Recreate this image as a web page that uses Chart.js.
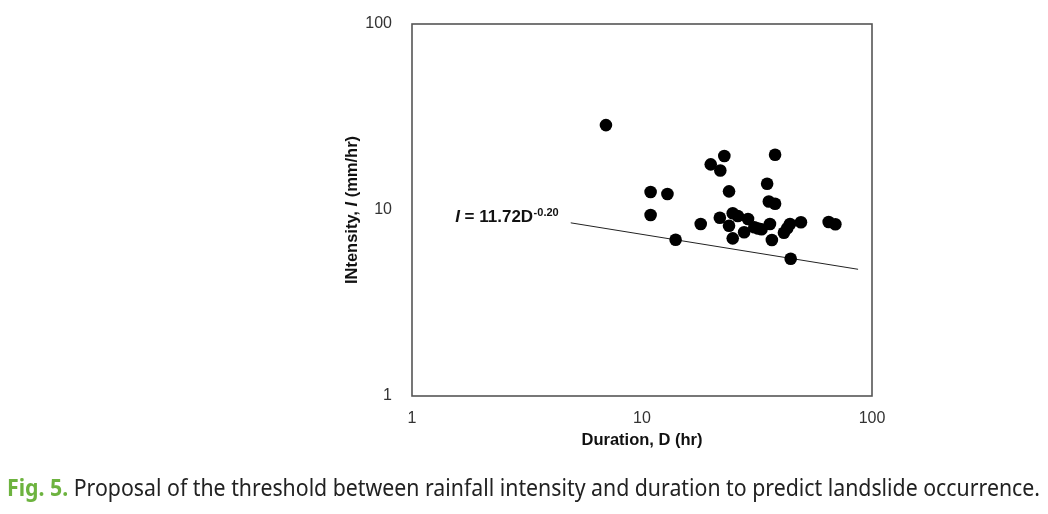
<!DOCTYPE html>
<html>
<head>
<meta charset="utf-8">
<script src="https://cdn.jsdelivr.net/npm/chart.js@4.4.1/dist/chart.umd.min.js"></script>
<style>
  html, body { margin: 0; padding: 0; background: #fff; }
  #wrap { position: relative; width: 1048px; height: 514px; overflow: hidden; }
  #c { position: absolute; left: 0; top: 0; }
  #caption { position: absolute; left: 7px; top: 476px; font-family: "Noto Sans", sans-serif; font-size: 23px; line-height: 23px; white-space: nowrap; color: #222; transform-origin: 0 0; }
  #caption .fig { color: #6db33f; font-weight: bold; }
</style>
</head>
<body>
<div id="wrap">
  <canvas id="c" width="1048" height="514"></canvas>
  <div id="caption"><span class="fig">Fig. 5.</span> Proposal of the threshold between rainfall intensity and duration to predict landslide occurrence.</div>
</div>
<script>
// ---- data ----
const durations   = [6.97, 22.8, 19.9, 21.9, 37.9, 35.0, 10.9, 12.9, 23.9, 35.6, 37.9, 10.9, 21.8, 24.8, 26.1, 28.9, 18.0, 23.9, 36.0, 44.0, 49.1, 64.8, 69.3, 27.8, 30.8, 33.1, 32.0, 41.4, 42.8, 24.8, 36.7, 14.0, 44.3];
const intensities = [28.6, 19.5, 17.6, 16.3, 19.8, 13.85, 12.5, 12.2, 12.6, 11.1, 10.8, 9.4, 9.09, 9.6, 9.29, 8.94, 8.41, 8.23, 8.41, 8.41, 8.59, 8.62, 8.38, 7.59, 8.07, 7.88, 7.95, 7.55, 7.97, 7.04, 6.90, 6.92, 5.47];
const thresholdD  = [4.9, 87];
const thresholdI  = [8.53, 4.80];
const xTicks = [1, 10, 100];
const yTicks = [1, 10, 100];
const xTitle = 'Duration, D (hr)';
const yTitleParts = [['INtensity, ', 'bold'], ['I', 'italic bold'], [' (mm/hr)', 'bold']];
const eqParts = { sym: 'I', main: ' = 11.72D', sup: '-0.20' };
const eqAnchor = { D: 1.54, I: 8.62 };

const FONT = '"Liberation Sans", Arial, sans-serif';
Chart.defaults.font.family = FONT;

const pts = durations.map((d, i) => ({ x: d, y: intensities[i] }));
const line = thresholdD.map((d, i) => ({ x: d, y: thresholdI[i] }));

const decor = {
  id: 'decor',
  afterDatasetsDraw(chart) {
    const ctx = chart.ctx;
    const a = chart.chartArea;
    const xs = chart.scales.x, ys = chart.scales.y;
    ctx.save();
    // frame
    ctx.strokeStyle = '#555';
    ctx.lineWidth = 1.6;
    ctx.strokeRect(a.left, a.top, a.right - a.left, a.bottom - a.top);
    // x title
    ctx.fillStyle = '#111';
    ctx.font = 'bold 16.5px ' + FONT;
    ctx.textAlign = 'center';
    ctx.textBaseline = 'middle';
    ctx.fillText(xTitle, (a.left + a.right) / 2, a.bottom + 44);
    // y title (rotated)
    ctx.save();
    ctx.translate(a.left - 60, (a.top + a.bottom) / 2);
    ctx.rotate(-Math.PI / 2);
    ctx.textAlign = 'left';
    let total = 0;
    yTitleParts.forEach(p => { ctx.font = p[1] + ' 16.5px ' + FONT; total += ctx.measureText(p[0]).width; });
    let cx = -total / 2;
    yTitleParts.forEach(p => { ctx.font = p[1] + ' 16.5px ' + FONT; ctx.fillText(p[0], cx, 0); cx += ctx.measureText(p[0]).width; });
    ctx.restore();
    // equation annotation
    const ex = xs.getPixelForValue(eqAnchor.D);
    const ey = ys.getPixelForValue(eqAnchor.I);
    ctx.textAlign = 'left';
    ctx.textBaseline = 'alphabetic';
    ctx.fillStyle = '#111';
    ctx.font = 'italic bold 17px ' + FONT;
    ctx.fillText(eqParts.sym, ex, ey);
    let w = ctx.measureText(eqParts.sym).width;
    ctx.font = 'bold 17px ' + FONT;
    ctx.fillText(eqParts.main, ex + w, ey);
    w += ctx.measureText(eqParts.main).width;
    ctx.font = 'bold 11px ' + FONT;
    ctx.fillText(eqParts.sup, ex + w + 0.5, ey - 6);
    ctx.restore();
  }
};

new Chart(document.getElementById('c'), {
  type: 'scatter',
  data: {
    datasets: [
      { label: 'events', data: pts, pointRadius: 6.3, pointHoverRadius: 6.3, backgroundColor: '#000', borderColor: '#000', borderWidth: 0, order: 1 },
      { label: 'threshold', data: line, showLine: true, pointRadius: 0, borderColor: '#222', borderWidth: 1, fill: false, order: 2 }
    ]
  },
  options: {
    responsive: false,
    animation: false,
    devicePixelRatio: 1,
    layout: { padding: { left: 352, right: 176, top: 24, bottom: 78 } },
    plugins: { legend: { display: false }, tooltip: { enabled: false } },
    scales: {
      x: {
        type: 'logarithmic', min: 1, max: 100,
        afterBuildTicks: s => { s.ticks = xTicks.map(v => ({ value: v })); },
        afterFit: s => { s.height = 40; s.paddingLeft = 10; s.paddingRight = 10; },
        grid: { display: false, drawTicks: false },
        border: { display: false },
        ticks: { padding: 13, color: '#333', font: { size: 16 }, maxRotation: 0, autoSkip: false, callback: v => String(v) }
      },
      y: {
        type: 'logarithmic', min: 1, max: 100,
        afterBuildTicks: s => { s.ticks = yTicks.map(v => ({ value: v })); },
        afterFit: s => { s.width = 60; s.paddingTop = 10; s.paddingBottom = 10; },
        grid: { display: false, drawTicks: false },
        border: { display: false },
        ticks: { padding: 20, color: '#333', font: { size: 16 }, autoSkip: false, callback: v => String(v) }
      }
    }
  },
  plugins: [decor]
});

// fit caption width to reference span
const cap = document.getElementById('caption');
const cw = cap.getBoundingClientRect().width;
cap.style.transform = 'scaleX(' + (1033 / cw) + ')';
</script>
</body>
</html>
